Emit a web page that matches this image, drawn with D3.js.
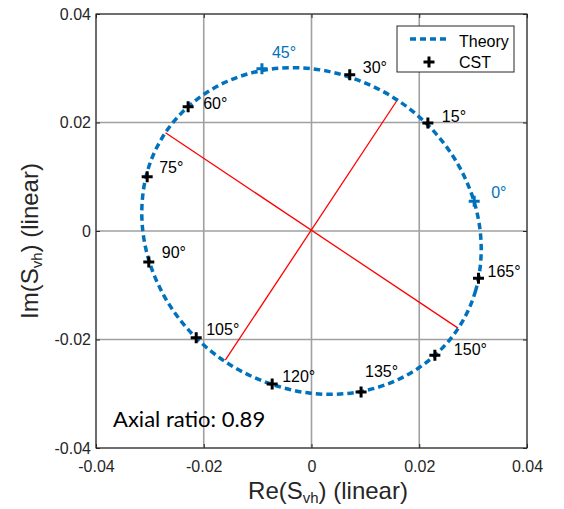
<!DOCTYPE html>
<html>
<head>
<meta charset="utf-8">
<script src="https://cdn.jsdelivr.net/npm/d3@7"></script>
<style>
  body { margin: 0; background: #fff; }
  text { font-family: "Liberation Sans", Arial, sans-serif; }
</style>
</head>
<body>
<div id="chart"></div>
<script>
// ticks
var tickValues = [-0.04, -0.02, 0, 0.02, 0.04];
var tickLabels = ["-0.04", "-0.02", "0", "0.02", "0.04"];

// theory curve
var theoryX = [0.0272, 0.0304, 0.0315, 0.0305, 0.0274, 0.0225, 0.0160, 0.0084, 0.0002, -0.0079, -0.0156, -0.0221,
               -0.0272, -0.0304, -0.0315, -0.0305, -0.0274, -0.0225, -0.0160, -0.0084, -0.0002, 0.0079, 0.0156, 0.0221];
var theoryY = [-0.0180, -0.0112, -0.0035, 0.0043, 0.0119, 0.0186, 0.0241, 0.0279, 0.0299, 0.0298, 0.0276, 0.0236,
               0.0180, 0.0112, 0.0035, -0.0043, -0.0119, -0.0186, -0.0241, -0.0279, -0.0299, -0.0298, -0.0276, -0.0236];

// theory markers (blue)
var theoryAngles = [0, 45];
var theoryMarkX = [0.0302, -0.0092];
var theoryMarkY = [0.0055, 0.0299];

// CST points
var cstAngles = [15, 30, 60, 75, 90, 105, 120, 135, 150, 165];
var cstX = [0.0216, 0.0071, -0.0229, -0.0305, -0.0302, -0.0214, -0.0073, 0.0092, 0.0229, 0.0310];
var cstY = [0.0199, 0.0288, 0.0229, 0.0100, -0.0057, -0.0197, -0.0282, -0.0297, -0.0229, -0.0087];

// ellipse axes (red)
var majorX = [-0.0271, 0.0272], majorY = [0.0181, -0.0179];
var minorX = [0.0159, -0.0160], minorY = [0.0241, -0.0238];

var axialRatio = "0.89";

var width = 564, height = 509;
var plotL = 96, plotR = 527, plotT = 14, plotB = 448;
var blue = "#0072BD", frame = "#262626";

// label offsets from each marker (px)
var labelOffset = {
  0: [17, -3], 45: [10, -11], 15: [14, -1], 30: [13, -2], 60: [15, 2], 75: [12, -4], 90: [13, -4],
  105: [10, -3], 120: [10, -2], 135: [4, -15], 150: [19, 0], 165: [9, -1]
};

var svg = d3.select("#chart").append("svg")
  .attr("width", width)
  .attr("height", height);

var x = d3.scaleLinear().domain([-0.04, 0.04]).range([plotL, plotR]);
var y = d3.scaleLinear().domain([-0.04, 0.04]).range([plotB, plotT]);

// grid
svg.append("g")
  .selectAll("line")
  .data(tickValues)
  .join("line")
    .attr("x1", d => x(d)).attr("x2", d => x(d))
    .attr("y1", plotT).attr("y2", plotB)
    .attr("stroke", "#a0a0a0").attr("stroke-width", 1.6);
svg.append("g")
  .selectAll("line")
  .data(tickValues)
  .join("line")
    .attr("y1", d => y(d)).attr("y2", d => y(d))
    .attr("x1", plotL).attr("x2", plotR)
    .attr("stroke", "#a0a0a0").attr("stroke-width", 1.6);

// axes
function styleAxis(g) {
  g.select(".domain").remove();
  g.selectAll(".tick line").attr("stroke", frame).attr("stroke-width", 1);
  g.selectAll(".tick text").attr("fill", "#262626").style("font-size", "16px")
    .style("font-family", "'Liberation Sans', Arial, sans-serif");
}
svg.append("g")
  .attr("transform", "translate(0," + plotB + ")")
  .call(d3.axisBottom(x).tickValues(tickValues).tickSizeInner(-4).tickSizeOuter(0).tickPadding(13)
    .tickFormat((d, i) => tickLabels[i]))
  .call(styleAxis);
svg.append("g")
  .attr("transform", "translate(" + plotL + ",0)")
  .call(d3.axisLeft(y).tickValues(tickValues).tickSizeInner(-4).tickSizeOuter(0).tickPadding(5)
    .tickFormat((d, i) => tickLabels[i]))
  .call(styleAxis);
svg.append("g")
  .attr("transform", "translate(0," + plotT + ")")
  .call(d3.axisTop(x).tickValues(tickValues).tickSizeInner(-4).tickSizeOuter(0).tickFormat(""))
  .call(styleAxis);
svg.append("g")
  .attr("transform", "translate(" + plotR + ",0)")
  .call(d3.axisRight(y).tickValues(tickValues).tickSizeInner(-4).tickSizeOuter(0).tickFormat(""))
  .call(styleAxis);

svg.append("rect")
  .attr("x", plotL).attr("y", plotT)
  .attr("width", plotR - plotL).attr("height", plotB - plotT)
  .attr("fill", "none").attr("stroke", frame).attr("stroke-width", 1);

// red axis lines
[[majorX, majorY], [minorX, minorY]].forEach(function(p) {
  svg.append("line")
    .attr("x1", x(p[0][0])).attr("y1", y(p[1][0]))
    .attr("x2", x(p[0][1])).attr("y2", y(p[1][1]))
    .attr("stroke", "#ff0000").attr("stroke-width", 1.3);
});

// theory ellipse
var theory = theoryX.map((v, i) => [v, theoryY[i]]);
svg.append("path")
  .datum(theory)
  .attr("fill", "none")
  .attr("stroke", blue)
  .attr("stroke-width", 3.5)
  .attr("stroke-dasharray", "6.5,4")
  .attr("d", d3.line().x(d => x(d[0])).y(d => y(d[1])).curve(d3.curveCatmullRomClosed));

var plus = "M-5.5,0H5.5M0,-5.5V5.5";

// theory markers
svg.append("g")
  .selectAll("path")
  .data(theoryAngles)
  .join("path")
    .attr("transform", (d, i) => "translate(" + x(theoryMarkX[i]) + "," + y(theoryMarkY[i]) + ")")
    .attr("d", plus)
    .attr("stroke", blue).attr("stroke-width", 3);
svg.append("g")
  .selectAll("text")
  .data(theoryAngles)
  .join("text")
    .attr("x", (d, i) => x(theoryMarkX[i]) + labelOffset[d][0])
    .attr("y", (d, i) => y(theoryMarkY[i]) + labelOffset[d][1])
    .attr("fill", blue)
    .style("font-size", "16px")
    .text(d => d + "°");

// CST markers
svg.append("g")
  .selectAll("path")
  .data(cstAngles)
  .join("path")
    .attr("transform", (d, i) => "translate(" + x(cstX[i]) + "," + y(cstY[i]) + ")")
    .attr("d", plus)
    .attr("stroke", "#000").attr("stroke-width", 3);
svg.append("g")
  .selectAll("text")
  .data(cstAngles)
  .join("text")
    .attr("x", (d, i) => x(cstX[i]) + labelOffset[d][0])
    .attr("y", (d, i) => y(cstY[i]) + labelOffset[d][1])
    .attr("fill", "#000")
    .style("font-size", "16px")
    .text(d => d + "°");

// legend
var legend = svg.append("g").attr("transform", "translate(397,26)");
legend.append("rect")
  .attr("width", 117).attr("height", 46)
  .attr("fill", "#fff").attr("stroke", frame).attr("stroke-width", 1);
legend.append("line")
  .attr("x1", 13).attr("x2", 50).attr("y1", 13).attr("y2", 13)
  .attr("stroke", blue).attr("stroke-width", 3.5).attr("stroke-dasharray", "6,4");
legend.append("path")
  .attr("transform", "translate(32,36)")
  .attr("d", plus)
  .attr("stroke", "#000").attr("stroke-width", 3);
legend.append("text").attr("x", 62).attr("y", 21).style("font-size", "16px").text("Theory");
legend.append("text").attr("x", 62).attr("y", 42).style("font-size", "16px").text("CST");

// axial ratio note
svg.append("text")
  .attr("x", 113).attr("y", 427)
  .style("font-family", "Lato, 'Open Sans', sans-serif")
  .style("font-size", "22px")
  .text("Axial ratio: " + axialRatio);

// axis titles
var xt = svg.append("text")
  .attr("x", 328).attr("y", 499)
  .attr("text-anchor", "middle")
  .style("font-size", "24px")
  .attr("fill", "#262626");
xt.append("tspan").text("Re(S");
xt.append("tspan").attr("dy", 4).style("font-size", "15px").text("vh");
xt.append("tspan").attr("dy", -4).text(") (linear)");

var yt = svg.append("text")
  .attr("transform", "translate(38,241) rotate(-90)")
  .attr("text-anchor", "middle")
  .style("font-size", "24px")
  .attr("fill", "#262626");
yt.append("tspan").text("Im(S");
yt.append("tspan").attr("dy", 4).style("font-size", "15px").text("vh");
yt.append("tspan").attr("dy", -4).text(") (linear)");
</script>
</body>
</html>
